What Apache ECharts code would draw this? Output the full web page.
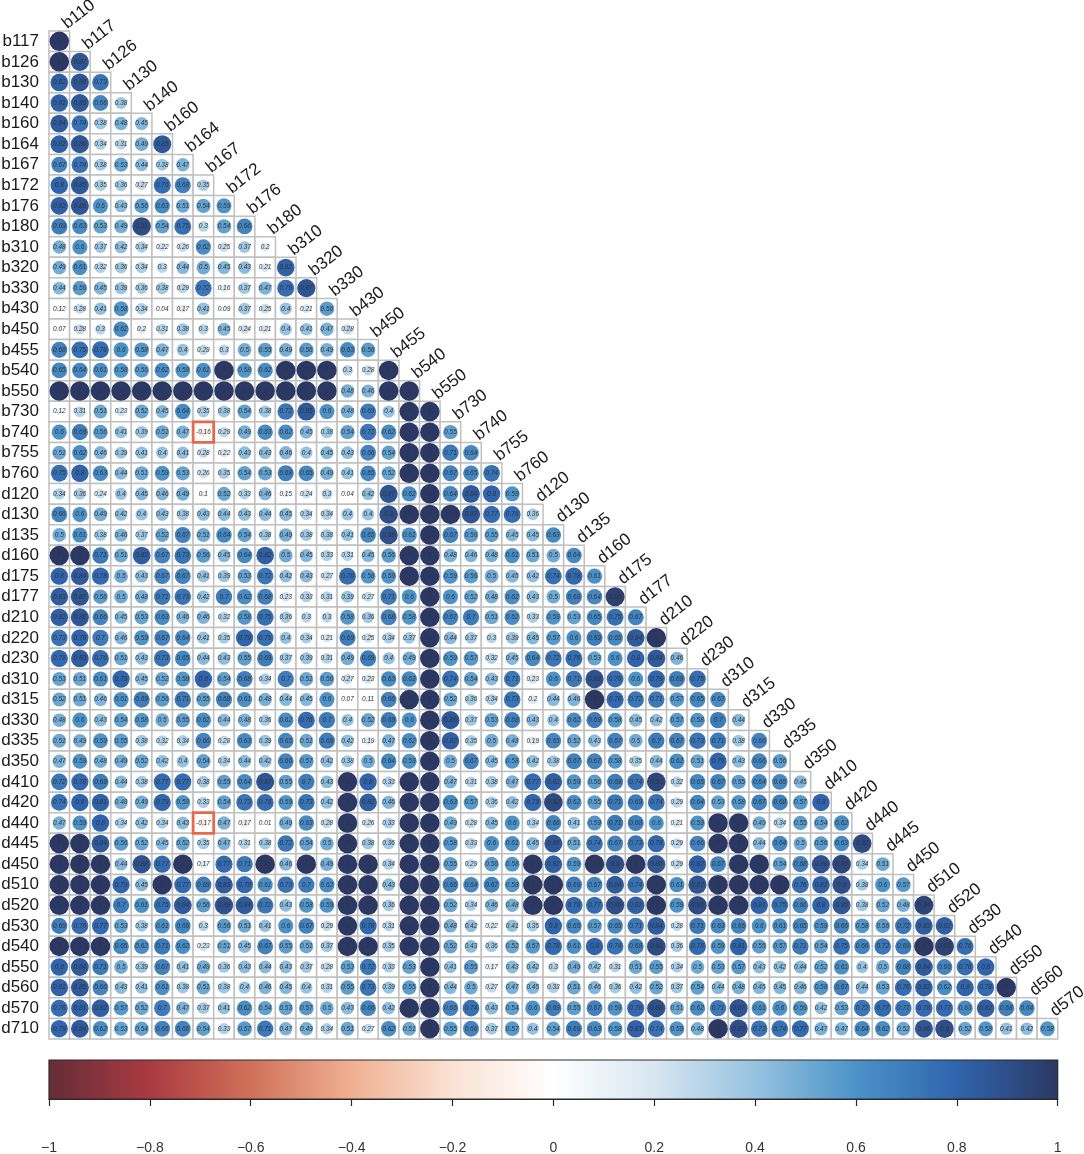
<!DOCTYPE html>
<html>
<head>
<meta charset="utf-8">
<title>correlogram</title>
<style>
  html, body { margin: 0; padding: 0; background: #fff; }
  #chart { width: 1084px; height: 1154px; }
</style>
<script src="https://cdn.jsdelivr.net/npm/echarts@6/dist/echarts.min.js"></script>
</head>
<body>
<div id="chart"></div>
<script>
const rowNames = ["b117","b126","b130","b140","b160","b164","b167","b172","b176","b180","b310","b320","b330","b430","b450","b455","b540","b550","b730","b740","b755","b760","d120","d130","d135","d160","d175","d177","d210","d220","d230","d310","d315","d330","d335","d350","d410","d420","d440","d445","d450","d510","d520","d530","d540","d550","d560","d570","d710"];
const colNames = ["b110","b117","b126","b130","b140","b160","b164","b167","b172","b176","b180","b310","b320","b330","b430","b450","b455","b540","b550","b730","b740","b755","b760","d120","d130","d135","d160","d175","d177","d210","d220","d230","d310","d315","d330","d335","d350","d410","d420","d440","d445","d450","d510","d520","d530","d540","d550","d560","d570"];

// lower triangle, one list per row
const corrRows = [
  [1],
  [1,.87],
  [.82,.86,.73],
  [.81,.85,.66,.38],
  [.84,.74,.38,.48,.45],
  [.82,.86,.34,.31,.49,.85],
  [.67,.74,.38,.53,.44,.38,.47],
  [.8,.85,.35,.36,.27,.76,.68,.35],
  [.82,.86,.6,.43,.56,.63,.51,.54,.59],
  [.69,.63,.53,.49,.91,.54,.75,.3,.54,.66],
  [.48,.6,.37,.42,.34,.22,.26,.62,.25,.37,.2],
  [.49,.61,.32,.36,.34,.3,.44,.5,.45,.43,.21,.82],
  [.44,.56,.45,.39,.36,.38,.29,.72,.16,.37,.47,.76,.87],
  [.12,.28,.41,.58,.34,.04,.17,.41,.09,.37,.25,.4,.21,.56],
  [.07,.28,.3,.62,.2,.31,.38,.3,.45,.24,.21,.4,.41,.47,.28],
  [.68,.75,.76,.6,.58,.47,.4,.29,.3,.5,.55,.49,.56,.49,.63,.56],
  [.65,.64,.61,.58,.56,.62,.58,.61,1,.58,.62,1,1,1,.3,.28,1],
  [1,1,1,1,1,1,1,1,1,1,1,1,1,1,.48,.46,1,1],
  [.12,.31,.51,.23,.52,.45,.64,.35,.38,.54,.38,.72,.85,.6,.48,.69,.4,1,1],
  [.6,.69,.56,.41,.39,.51,.47,-.16,.29,.49,.63,.62,.45,.38,.54,.72,.62,1,1,.55],
  [.51,.62,.46,.39,.41,.4,.41,.28,.22,.43,.43,.46,.4,.45,.43,.66,.54,1,1,.71,.64],
  [.75,.8,.63,.44,.51,.59,.53,.26,.35,.54,.53,.68,.65,.49,.41,.65,.52,1,1,.67,.65,.74],
  [.34,.36,.24,.4,.45,.46,.49,.1,.52,.33,.46,.15,.24,.3,.04,.42,.87,.62,1,.64,.84,.8,.59],
  [.66,.6,.49,.42,.4,.43,.38,.43,.44,.43,.44,.45,.34,.34,.4,.4,.9,1,1,1,.87,.77,.76,.36],
  [.5,.61,.38,.46,.37,.52,.67,.51,.64,.54,.38,.49,.38,.38,.41,.65,.88,.61,1,.67,.56,.55,.45,.45,.63],
  [1,1,.71,.51,.83,.67,.73,.56,.45,.64,.82,.5,.45,.33,.31,.45,.56,1,1,.48,.46,.48,.61,.51,.5,.64],
  [.8,.84,.78,.5,.43,.67,.67,.41,.39,.53,.72,.42,.43,.27,.76,.58,.59,1,1,.59,.56,.5,.45,.42,.74,.78,.61],
  [.83,.87,.56,.5,.48,.71,.73,.42,.7,.62,.68,.23,.33,.31,.39,.27,.71,.6,1,.6,.52,.48,.62,.43,.5,.68,.64,.96],
  [.82,.86,.66,.45,.53,.63,.46,.46,.32,.58,.75,.36,.3,.3,.58,.36,.68,.58,1,.67,.7,.51,.62,.33,.59,.53,.65,.75,.67],
  [.73,.79,.7,.46,.59,.67,.64,.41,.35,.79,.75,.4,.34,.21,.69,.25,.34,.37,1,.44,.37,.3,.39,.45,.57,.6,.69,.65,.84,1],
  [.78,.83,.76,.51,.43,.73,.65,.44,.43,.55,.69,.37,.39,.31,.49,.69,.4,.49,1,.59,.57,.32,.45,.64,.72,.76,.53,.6,.8,.84,.46],
  [.53,.51,.61,.79,.45,.52,.58,.8,.54,.68,.34,.7,.51,.56,.27,.23,.63,.63,1,.74,.54,.43,.71,.23,.6,.71,.88,.76,.6,.79,.69,.75],
  [.52,.51,.46,.61,.69,.56,.71,.55,.68,.61,.48,.44,.45,.6,.07,.11,.66,1,1,.52,.36,.34,.73,.2,.44,.46,1,.78,.72,.71,.57,.65,.63],
  [.48,.6,.43,.54,.58,.5,.55,.62,.44,.48,.36,.62,.76,.7,.4,.52,.69,.6,1,.86,.37,.53,.68,.43,.4,.62,.69,.58,.45,.42,.57,.58,.7,.44],
  [.51,.49,.59,.55,.38,.32,.34,.66,.28,.63,.39,.65,.51,.69,.42,.19,.47,.62,1,.82,.35,.5,.48,.19,.65,.52,.43,.67,.5,.7,.67,.73,.71,.38,.66],
  [.47,.59,.48,.49,.52,.42,.4,.54,.34,.44,.42,.66,.57,.42,.38,.5,.64,.59,1,.5,.67,.45,.58,.42,.38,.67,.67,.58,.35,.44,.62,.51,.79,.43,.66,.56],
  [.72,.78,.69,.44,.38,.77,.77,.38,.55,.64,.87,.55,.7,.43,1,.8,.33,1,1,.47,.31,.38,.47,.77,.82,.59,.56,.69,.74,.93,.32,.65,.67,.55,.64,.65,.45],
  [.74,.8,.81,.48,.49,.79,.58,.33,.54,.73,.76,.59,.73,.42,1,.82,.46,1,1,.63,.57,.36,.42,.79,.92,.62,.55,.71,.69,.74,.29,.64,.53,.58,.67,.68,.57,.8],
  [.47,.59,.8,.34,.42,.34,.43,-.17,.47,.17,.01,.49,.63,.28,1,.26,.33,1,1,.49,.28,.45,.6,.34,.66,.41,.59,.71,.68,.6,.21,.59,1,1,.49,.34,.55,.54,.62],
  [1,1,.84,.56,.52,.45,.52,.35,.47,.31,.38,.72,.54,.5,1,.38,.36,1,1,.58,.33,.6,.61,.45,.86,.51,.74,.67,.73,.78,.29,.66,1,1,.44,.64,.5,.56,.63,.92],
  [1,1,1,.44,.88,.77,1,.17,.77,.71,1,.46,1,.49,1,1,.34,1,1,.55,.29,.56,.58,1,.82,.59,1,.9,1,.86,.29,.82,.67,1,1,.54,.68,.88,.93,.34,.51],
  [1,1,1,.79,.45,1,.77,.69,.83,.78,.61,.73,.7,.62,1,1,.43,1,1,.66,.64,.67,.58,1,1,.69,.67,.84,.74,1,.61,.87,1,1,1,1,.76,.82,.9,.38,.6,.57],
  [1,1,1,.7,.61,.75,.84,.56,.88,.84,.72,.43,.58,.59,1,1,.36,1,1,.52,.34,.46,.48,1,1,.78,.77,.89,.82,1,.59,.91,1,1,.81,.75,.66,.8,.86,.38,.52,.48,.94],
  [.69,.76,.77,.53,.38,.61,.66,.3,.56,.51,.41,.6,.67,.29,1,.78,.31,1,1,.48,.42,.22,.41,.35,.8,.65,.57,.65,.71,.84,.28,.71,.63,.66,.6,.61,.65,.59,.66,.58,.56,.72,.83,.82],
  [1,1,1,.65,.62,.71,.62,.23,.51,.45,.67,.55,.51,.37,1,1,.35,1,1,.52,.43,.36,.52,.57,.78,.61,.8,.74,.68,.91,.36,.78,.59,.81,.55,.57,.71,.54,.75,.66,.72,.69,1,.95,.76],
  [.8,.84,.71,.5,.39,.67,.41,.49,.36,.43,.44,.43,.37,.28,.53,.72,.33,.53,1,.41,.55,.17,.43,.42,.3,.49,.42,.31,.51,.55,.34,.5,.53,.57,.43,.42,.44,.52,.61,.4,.5,.68,.84,.66,.76,.8],
  [.81,.85,.66,.43,.41,.61,.38,.51,.38,.4,.46,.45,.4,.31,.55,.73,.39,.55,1,.44,.5,.27,.47,.45,.33,.51,.46,.36,.42,.52,.37,.54,.44,.48,.45,.45,.46,.58,.67,.44,.53,.76,.82,.62,.8,.78,1],
  [.76,.81,.82,.57,.52,.7,.47,.37,.41,.62,.54,.53,.57,.5,.43,.66,.42,1,1,.66,.74,.43,.54,.6,.69,.55,.67,.59,.78,.88,.51,.62,.71,.87,.61,.6,.59,.42,.53,.72,.77,.71,.78,.77,.63,.82,.68,.64],
  [.79,.84,.62,.53,.54,.66,.66,.54,.33,.57,.71,.47,.49,.34,.51,.27,.62,.51,1,.55,.66,.37,.57,.4,.54,.69,.63,.58,.81,.74,.59,.48,1,.89,.73,.74,.77,.47,.47,.64,.62,.52,.86,.9,.52,.58,.41,.42,.58]
];

const paletteColors = ["#642d38","#aa3a41","#d0705a","#f0b092","#fae2d4","#ffffff","#d7e6f1","#96c3e1","#4b92c8","#2f64ad","#2b3863"];

let cellData = [];
corrRows.forEach(function (row, r) {
  row.forEach(function (v, c) {
    cellData.push([c, r, v]);
  });
});
const topLabels = colNames.map(function (name, i) {
  return { name: name, value: [i, i] };
});
const barStops = paletteColors.map(function (c, i) {
  return { offset: i / (paletteColors.length - 1), color: c };
});

let myChart = echarts.init(document.getElementById("chart"), null, { renderer: "canvas" });

let option = {
  animation: false,
  backgroundColor: "#fff",
  textStyle: { fontFamily: "'Liberation Sans', Arial, sans-serif" },
  grid: [
    { left: 49, top: 31, width: 1008.7, height: 1008, outerBoundsMode: "none" },
    {
      left: 49, top: 1060, width: 1008.7, height: 39,
      outerBoundsMode: "none",
      show: true,
      backgroundColor: new echarts.graphic.LinearGradient(0, 0, 1, 0, barStops),
      borderColor: "#2a2a2a",
      borderWidth: 1.2,
    },
  ],
  xAxis: [
    { type: "category", data: colNames, gridIndex: 0, show: false },
    {
      type: "value",
      gridIndex: 1,
      min: -1,
      max: 1,
      interval: 0.2,
      position: "bottom",
      splitLine: { show: false },
      axisLine: { show: true, lineStyle: { color: "#2a2a2a", width: 1.2 } },
      axisTick: { show: true, length: 7, lineStyle: { color: "#2a2a2a", width: 1.2 } },
      axisLabel: {
        margin: 42,
        fontSize: 14,
        color: "#333",
        showMinLabel: true,
        showMaxLabel: true,
        formatter: function (v) {
          return String(Math.round(v * 10) / 10).replace("-", "−");
        },
      },
    },
  ],
  yAxis: [
    {
      type: "category",
      data: rowNames,
      inverse: true,
      gridIndex: 0,
      axisLine: { show: false },
      axisTick: { show: false },
      splitLine: { show: false },
      axisLabel: { fontSize: 17, color: "#1a1a1a", margin: 10, interval: 0 },
    },
    { type: "value", gridIndex: 1, show: false, min: 0, max: 1 },
  ],
  // 相关系数映射到颜色
  visualMap: {
    show: false,
    type: "continuous",
    min: -1,
    max: 1,
    dimension: 2,
    seriesIndex: 1,
    inRange: { color: paletteColors },
  },
  series: [
    {
      type: "custom",
      coordinateSystem: "cartesian2d",
      silent: true,
      data: cellData,
      encode: { x: 0, y: 1 },
      renderItem: function (params, api) {
        const p = api.coord([api.value(0), api.value(1)]);
        const s = api.size([1, 1]);
        const neg = api.value(2) < 0;
        return {
          type: "rect",
          z2: neg ? 10 : 1,
          shape: { x: p[0] - s[0] / 2, y: p[1] - s[1] / 2, width: s[0], height: s[1] },
          style: {
            fill: "#fff",
            stroke: neg ? "#e8694a" : "#c0c0c0",
            lineWidth: neg ? 2.8 : 1.5,
          },
        };
      },
    },
    {
      type: "scatter",
      silent: true,
      data: cellData,
      symbol: "circle",
      symbolSize: function (v) {
        return 19.5 * Math.sqrt(Math.abs(v[2]));
      },
      itemStyle: { opacity: 1 },
      label: {
        show: true,
        position: "inside",
        fontSize: 6.5,
        fontStyle: "italic",
        color: "#333",
        textBorderWidth: 0,
        formatter: function (p) {
          return String(p.value[2]);
        },
      },
    },
    {
      type: "scatter",
      silent: true,
      data: topLabels,
      symbolSize: 1,
      itemStyle: { color: "rgba(255,255,255,0)", opacity: 1 },
      label: {
        show: true,
        position: "inside",
        rotate: 38,
        align: "left",
        verticalAlign: "middle",
        offset: [13.6, -9.2],
        fontSize: 17,
        color: "#1a1a1a",
        formatter: function (p) {
          return p.name;
        },
      },
      clip: false,
    },
  ],
};

myChart.setOption(option);
</script>
</body>
</html>
